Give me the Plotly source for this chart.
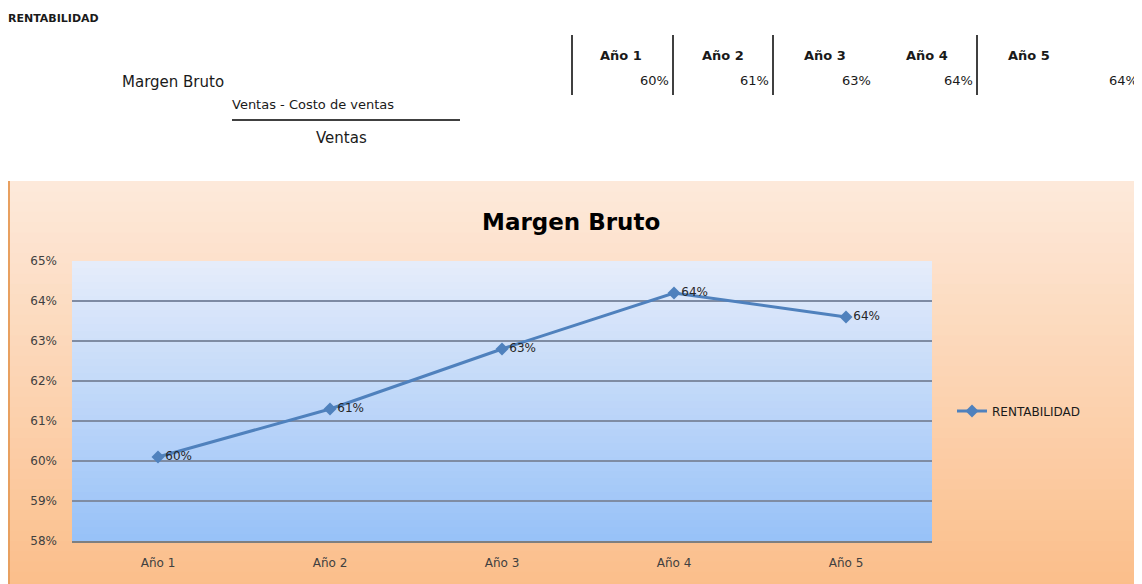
import plotly.graph_objects as go

# data
years = ["Año 1", "Año 2", "Año 3", "Año 4", "Año 5"]
margen = [0.601, 0.613, 0.628, 0.642, 0.636]
labels = ["60%", "61%", "63%", "64%", "64%"]
series_name = "RENTABILIDAD"

# page body adds an 8px margin, so the figure is made a bit smaller
OFF = 8
W, H = 1134, 576
L, R, T, B = 64, 210, 253, 43
pw, ph = W - L - R, H - T - B
FONT = "DejaVu Sans"


def px(x):
    return (x - OFF - L) / pw


def py(y):
    return (H - B - (y - OFF)) / ph


def mix(c1, c2, t):
    return "rgb(%d,%d,%d)" % tuple(round(a + (b - a) * t) for a, b in zip(c1, c2))


fig = go.Figure()

fig.add_trace(go.Scatter(
    x=years, y=margen, name=series_name,
    mode="lines+markers+text",
    text=labels, textposition="middle right",
    textfont=dict(size=12, color="#262626", family=FONT),
    line=dict(color="#4F81BD", width=3),
    marker=dict(symbol="diamond", size=10, color="#4F81BD"),
    cliponaxis=False,
))

shapes = []
# orange chart area gradient
n = 40
y0, y1 = 181, 592
for i in range(n):
    ya = y0 + (y1 - y0) * i / n
    yb = y0 + (y1 - y0) * (i + 1.6) / n
    shapes.append(dict(type="rect", xref="paper", yref="paper", layer="below",
                       x0=px(8), x1=px(1136), y0=py(min(yb, y1)), y1=py(ya), line_width=0,
                       fillcolor=mix((253, 233, 218), (251, 190, 138), i / (n - 1))))
shapes.append(dict(type="line", xref="paper", yref="paper", layer="below",
                   x0=px(9), x1=px(9), y0=py(592), y1=py(181),
                   line=dict(color="#E8A060", width=2)))
# blue plot area gradient
m = 40
for i in range(m):
    shapes.append(dict(type="rect", xref="x domain", yref="y domain", layer="below",
                       x0=0, x1=1, y0=max(0, 1 - (i + 1.6) / m), y1=1 - i / m, line_width=0,
                       fillcolor=mix((229, 236, 250), (152, 194, 248), i / (m - 1))))
# sheet table lines
for xl in [572, 673, 773, 977]:
    shapes.append(dict(type="line", xref="paper", yref="paper",
                       x0=px(xl), x1=px(xl), y0=py(95), y1=py(35),
                       line=dict(color="#000000", width=1.5)))
shapes.append(dict(type="line", xref="paper", yref="paper",
                   x0=px(232), x1=px(460), y0=py(120), y1=py(120),
                   line=dict(color="#000000", width=1.5)))

ann = []


def text(x, y, s, size=12, bold=False, anchor="left"):
    ann.append(dict(xref="paper", yref="paper", x=px(x), y=py(y), text=("<b>%s</b>" % s) if bold else s,
                    showarrow=False, xanchor=anchor, yanchor="middle",
                    font=dict(size=size, color="#1a1a1a", family=FONT)))


text(6, 18, "RENTABILIDAD", 11, bold=True)
text(120, 82, "Margen Bruto", 15)
text(230, 104, "Ventas - Costo de ventas", 13)
text(314, 138, "Ventas", 15)
hx = [598, 700, 802, 904, 1006]
vx = [671, 771, 873, 975, 1140]
for i in range(len(years)):
    text(hx[i], 56, years[i], 13, bold=True)
    text(vx[i], 80, labels[i], 13, anchor="right")

ann.append(dict(xref="paper", yref="paper", x=px(571), y=py(222), text="<b>Margen Bruto</b>",
                showarrow=False, xanchor="center", yanchor="middle",
                font=dict(size=23, color="#000000", family=FONT)))

fig.update_layout(
    width=W, height=H,
    margin=dict(l=L, r=R, t=T, b=B),
    paper_bgcolor="white",
    plot_bgcolor="rgba(0,0,0,0)",
    shapes=shapes,
    annotations=ann,
    showlegend=True,
    legend=dict(x=px(952), y=py(411), xanchor="left", yanchor="middle",
                bgcolor="rgba(0,0,0,0)",
                font=dict(size=12, color="#1a1a1a", family=FONT)),
    xaxis=dict(showgrid=False, showline=True, linecolor="#7f7f7f", linewidth=2,
               ticks="", ticklabelstandoff=10,
               tickfont=dict(size=12, color="#404040", family=FONT),
               range=[-0.5, 4.5]),
    yaxis=dict(range=[0.58, 0.65], dtick=0.01, tickformat=".0%",
               showgrid=True, gridcolor="#7F8CA3", gridwidth=2,
               zeroline=False, showline=False, ticks="", ticklabelstandoff=14,
               tickfont=dict(size=12, color="#404040", family=FONT)),
)

fig.write_html("out.html")
